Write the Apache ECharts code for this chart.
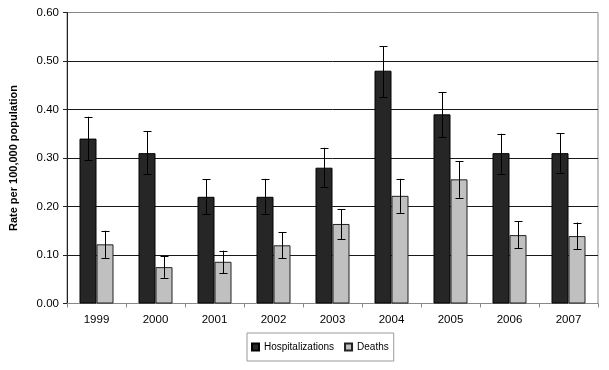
<!DOCTYPE html>
<html>
<head>
<meta charset="utf-8">
<script src="https://cdn.jsdelivr.net/npm/echarts@6/dist/echarts.min.js"></script>
<style>
  html, body { margin: 0; padding: 0; background: #fff; }
  #chart { width: 609px; height: 370px; }
</style>
</head>
<body>
<div id="chart"></div>
<script>
// Data
var years = ['1999', '2000', '2001', '2002', '2003', '2004', '2005', '2006', '2007'];
var hospRate = [0.34, 0.31, 0.22, 0.22, 0.28, 0.48, 0.39, 0.31, 0.31];
var hospLow = [0.295, 0.266, 0.184, 0.185, 0.240, 0.425, 0.343, 0.268, 0.270];
var hospHigh = [0.385, 0.355, 0.256, 0.257, 0.321, 0.530, 0.436, 0.350, 0.351];
var deathRate = [0.122, 0.075, 0.086, 0.120, 0.164, 0.222, 0.256, 0.141, 0.139];
var deathLow = [0.094, 0.053, 0.062, 0.093, 0.133, 0.187, 0.218, 0.114, 0.112];
var deathHigh = [0.150, 0.097, 0.109, 0.147, 0.194, 0.257, 0.293, 0.170, 0.167];

var barW = 17;
var font = "'Liberation Sans', Arial, sans-serif";

var chartEl = document.getElementById('chart');
var chart = echarts.init(chartEl);

// error bar data: [category index, low, high]
function errData(lo, hi) {
    var out = [];
    for (var i = 0; i < years.length; i++) {
        out.push([i, lo[i], hi[i]]);
    }
    return out;
}

function errRenderer(shift) {
    return function (params, api) {
        var top = api.coord([api.value(0), api.value(2)]);
        var bot = api.coord([api.value(0), api.value(1)]);
        var x = Math.round(top[0] + shift) + 0.5;
        var cap = 4;
        var st = { stroke: '#000', lineWidth: 1 };
        return {
            type: 'group',
            children: [
                { type: 'line', shape: { x1: x, y1: top[1], x2: x, y2: bot[1] }, style: st },
                { type: 'line', shape: { x1: x - cap, y1: Math.round(top[1]) + 0.5, x2: x + cap, y2: Math.round(top[1]) + 0.5 }, style: st },
                { type: 'line', shape: { x1: x - cap, y1: Math.round(bot[1]) + 0.5, x2: x + cap, y2: Math.round(bot[1]) + 0.5 }, style: st }
            ]
        };
    };
}

var option = {
    animation: false,
    textStyle: { fontFamily: font },
    grid: {
        left: 64,
        right: 11,
        top: 12.5,
        bottom: 66.5,
        show: true,
        borderColor: '#888',
        borderWidth: 1
    },
    legend: {
        data: ['Hospitalizations', 'Deaths'],
        left: 247,
        top: 333,
        itemWidth: 7,
        itemHeight: 7,
        itemGap: 10,
        icon: 'rect',
        padding: [9, 5, 9, 4],
        borderColor: '#999',
        borderWidth: 1,
        textStyle: { fontSize: 10, color: '#000', fontFamily: font }
    },
    xAxis: {
        type: 'category',
        data: years,
        axisLine: { lineStyle: { color: '#888' } },
        axisTick: { show: true, length: 4, lineStyle: { color: '#888' } },
        axisLabel: { fontSize: 11.5, color: '#000', margin: 10 }
    },
    yAxis: {
        type: 'value',
        min: 0,
        max: 0.6,
        interval: 0.1,
        name: 'Rate per 100,000 population',
        nameLocation: 'middle',
        nameGap: 48,
        nameTextStyle: { fontSize: 11, fontWeight: 'bold', color: '#000' },
        axisLine: { show: true, lineStyle: { color: '#222' } },
        axisTick: { show: true, length: 4, lineStyle: { color: '#222' } },
        axisLabel: {
            fontSize: 11.5,
            color: '#000',
            margin: 8,
            formatter: function (v) { return v.toFixed(2); }
        },
        splitLine: {
            lineStyle: { color: ['#888', '#1a1a1a', '#1a1a1a', '#1a1a1a', '#1a1a1a', '#1a1a1a', '#888'], width: 1 }
        }
    },
    series: [
        {
            name: 'Hospitalizations',
            type: 'bar',
            barWidth: barW,
            barGap: '0%',
            data: hospRate,
            itemStyle: { color: '#262626', borderColor: '#000', borderWidth: 1 }
        },
        {
            name: 'Deaths',
            type: 'bar',
            barWidth: barW,
            barGap: '0%',
            data: deathRate,
            itemStyle: { color: '#c0c0c0', borderColor: '#222', borderWidth: 1 }
        },
        {
            name: 'hospErr',
            type: 'custom',
            renderItem: errRenderer(-barW / 2),
            data: errData(hospLow, hospHigh),
            encode: { x: 0, y: [1, 2] },
            z: 10
        },
        {
            name: 'deathErr',
            type: 'custom',
            renderItem: errRenderer(barW / 2),
            data: errData(deathLow, deathHigh),
            encode: { x: 0, y: [1, 2] },
            z: 10
        }
    ]
};

chart.setOption(option);

window.addEventListener('resize', function () {
    chart.resize();
});
</script>
</body>
</html>
